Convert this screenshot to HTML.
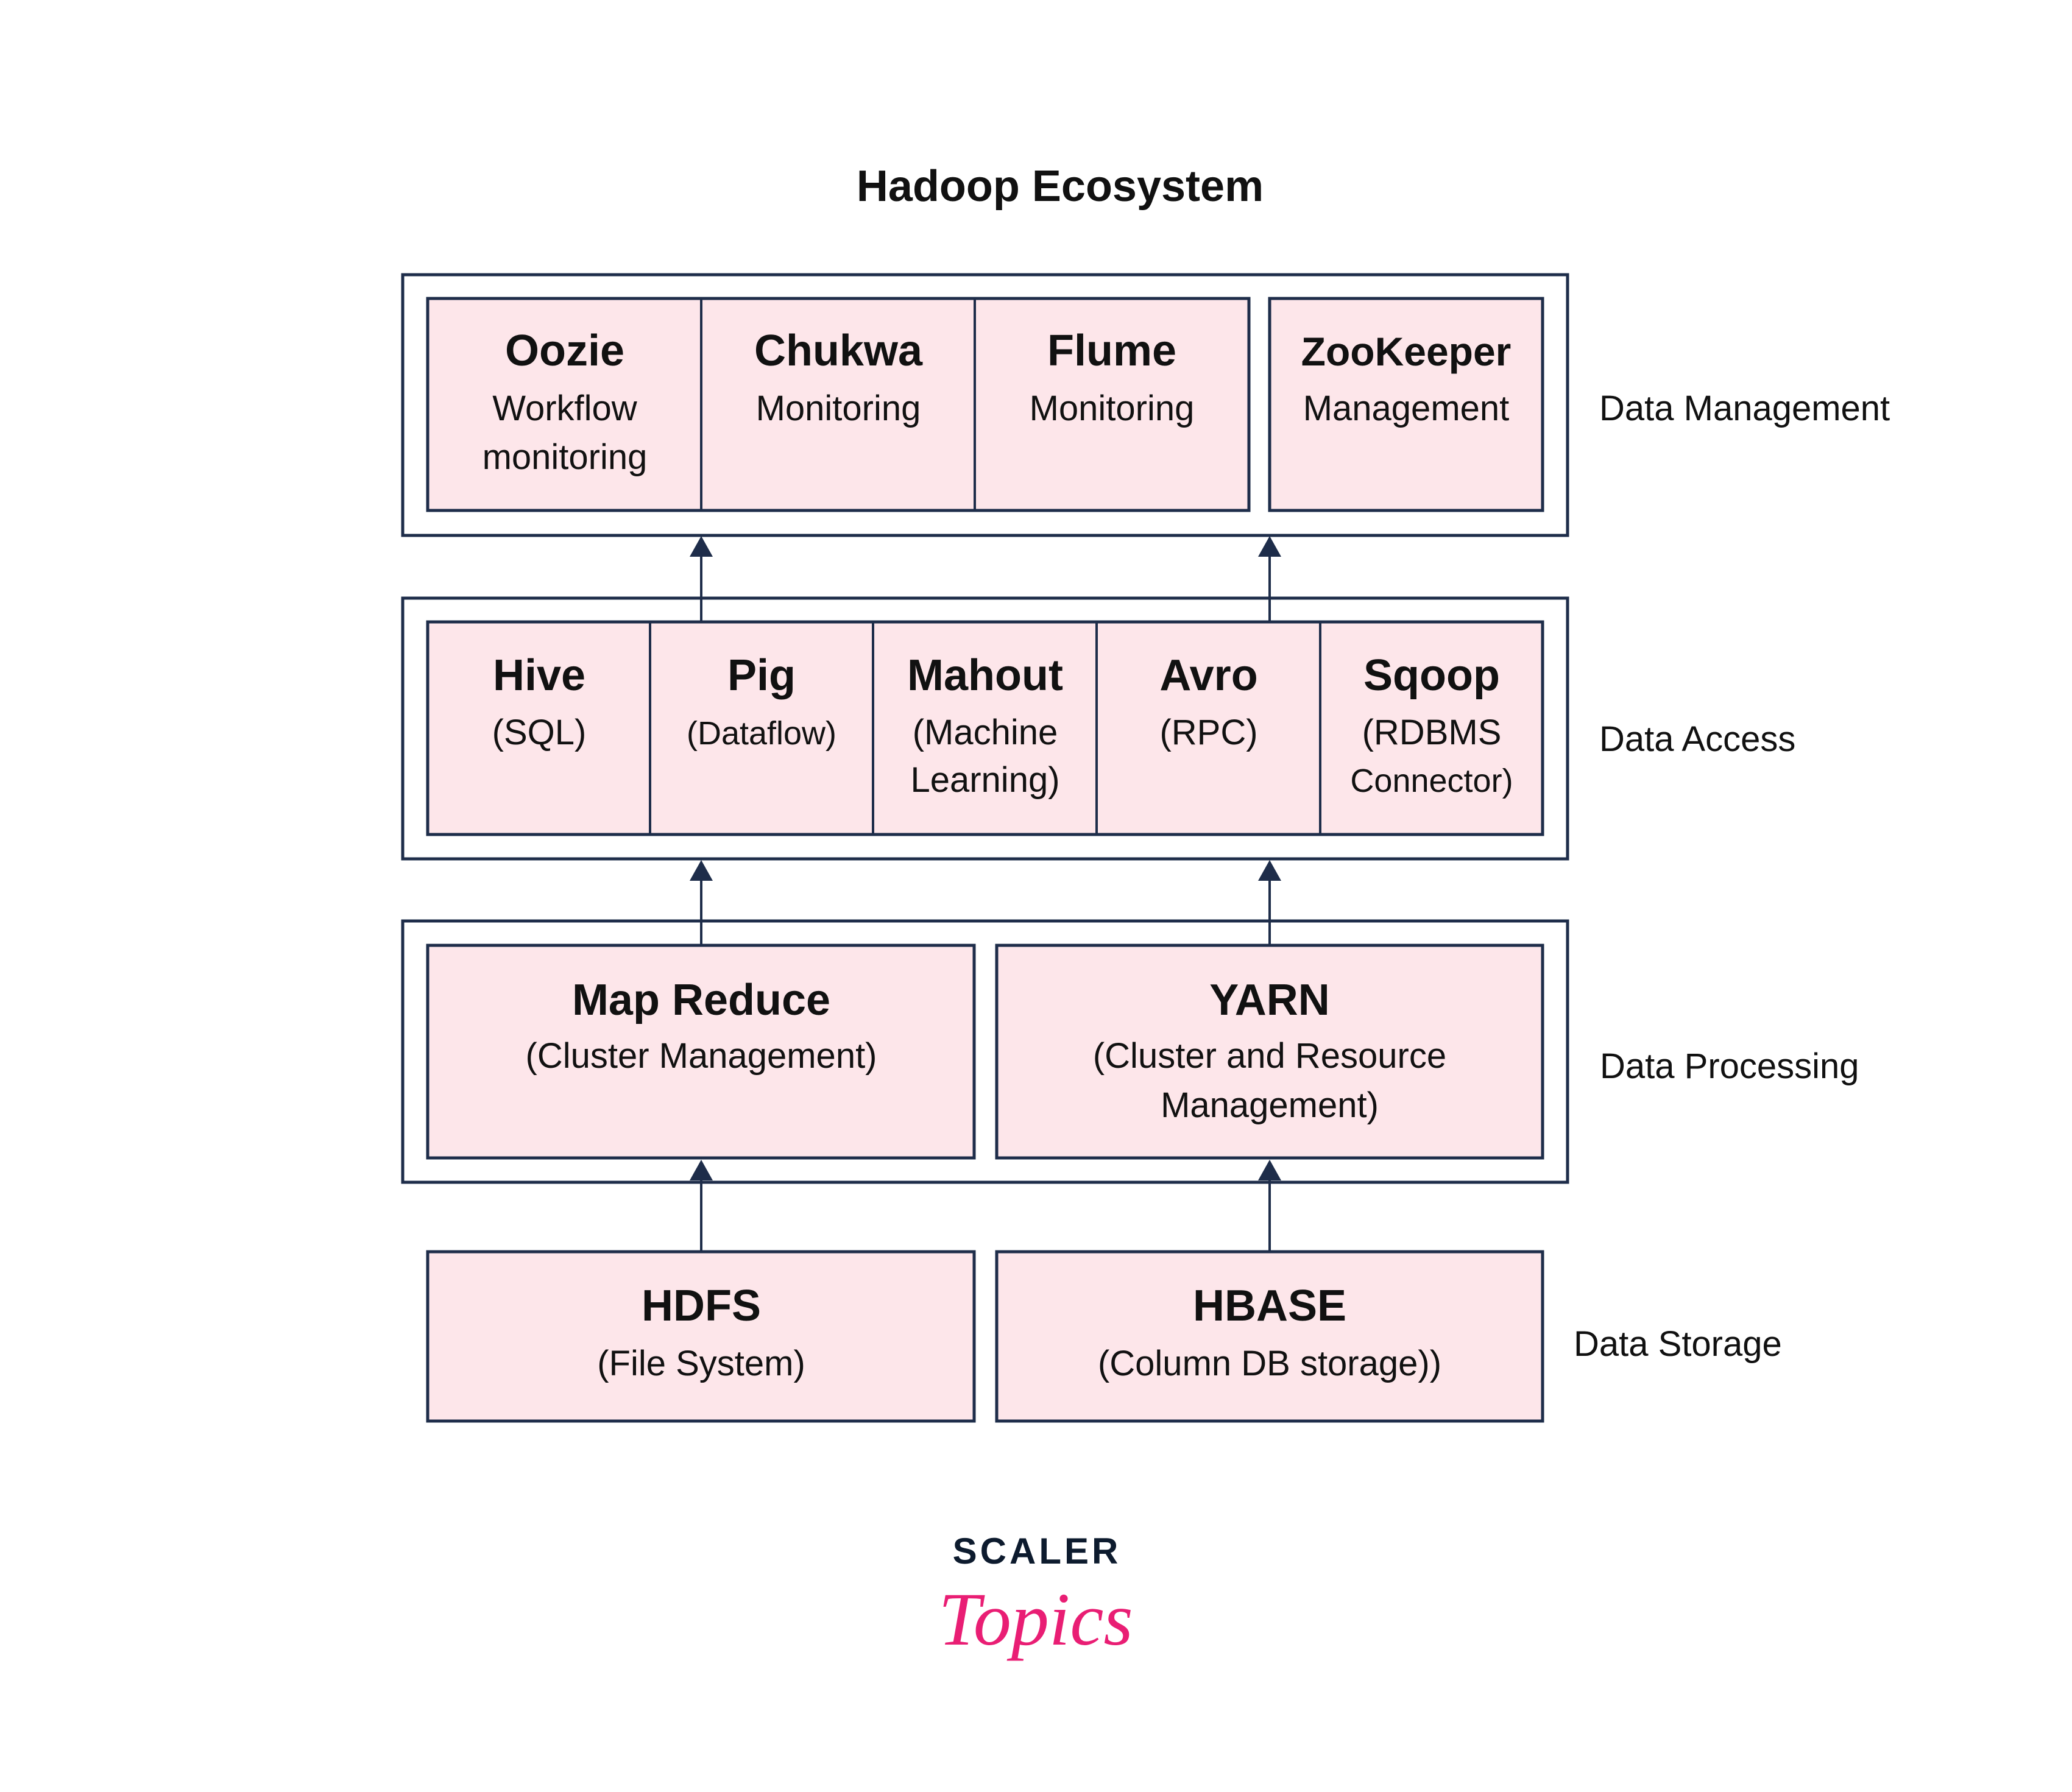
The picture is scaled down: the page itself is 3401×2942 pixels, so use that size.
<!DOCTYPE html>
<html><head><meta charset="utf-8"><style>
html,body{margin:0;padding:0;background:#fff;}
svg{display:block;}
text{font-family:"Liberation Sans",sans-serif;fill:#111;}
.t{font-weight:bold;font-size:72px;text-anchor:middle;}
.s{font-size:58px;text-anchor:middle;}
.l{font-size:58px;}
</style></head><body>
<svg width="3401" height="2942" viewBox="0 0 3401 2942" xmlns="http://www.w3.org/2000/svg">
<g stroke="#1e2d4a" stroke-width="5" fill="none">
<rect x="661" y="451" width="1912" height="428"/>
<rect x="661" y="982" width="1912" height="428"/>
<rect x="661" y="1512" width="1912" height="429"/>
</g>
<g stroke="#1e2d4a" stroke-width="5" fill="#fde6ea">
<rect x="702" y="490" width="1348" height="348"/>
<rect x="2084" y="490" width="448" height="348"/>
<rect x="702" y="1021" width="1830" height="349"/>
<rect x="702" y="1552" width="897" height="349"/>
<rect x="1636" y="1552" width="896" height="349"/>
<rect x="702" y="2055" width="897" height="278"/>
<rect x="1636" y="2055" width="896" height="278"/>
</g>
<g stroke="#1e2d4a" stroke-width="4">
<line x1="1151" y1="490" x2="1151" y2="838"/>
<line x1="1600" y1="490" x2="1600" y2="838"/>
<line x1="1067" y1="1021" x2="1067" y2="1370"/>
<line x1="1433" y1="1021" x2="1433" y2="1370"/>
<line x1="1800" y1="1021" x2="1800" y2="1370"/>
<line x1="2167" y1="1021" x2="2167" y2="1370"/>
<line x1="1151" y1="905" x2="1151" y2="1021"/>
<line x1="2084" y1="905" x2="2084" y2="1021"/>
<line x1="1151" y1="1440" x2="1151" y2="1552"/>
<line x1="2084" y1="1440" x2="2084" y2="1552"/>
<line x1="1151" y1="1935" x2="1151" y2="2055"/>
<line x1="2084" y1="1935" x2="2084" y2="2055"/>
</g>
<g fill="#1e2d4a">
<polygon points="1151,880 1132,914 1170,914"/>
<polygon points="2084,880 2065,914 2103,914"/>
<polygon points="1151,1412 1132,1446 1170,1446"/>
<polygon points="2084,1412 2065,1446 2103,1446"/>
<polygon points="1151,1904 1132,1938 1170,1938"/>
<polygon points="2084,1904 2065,1938 2103,1938"/>
</g>
<text x="1740" y="330" class="t" style="font-size:72px">Hadoop Ecosystem</text>
<text x="927" y="600" class="t">Oozie</text>
<text x="927" y="690" class="s">Workflow</text>
<text x="927" y="770" class="s">monitoring</text>
<text x="1376" y="600" class="t">Chukwa</text>
<text x="1376" y="690" class="s">Monitoring</text>
<text x="1825" y="600" class="t">Flume</text>
<text x="1825" y="690" class="s">Monitoring</text>
<text x="2308" y="600" class="t" style="font-size:66px">ZooKeeper</text>
<text x="2308" y="690" class="s">Management</text>
<text x="2625" y="690" class="l">Data Management</text>

<text x="885" y="1133" class="t">Hive</text>
<text x="885" y="1222" class="s">(SQL)</text>
<text x="1250" y="1133" class="t">Pig</text>
<text x="1250" y="1222" class="s" style="font-size:54px">(Dataflow)</text>
<text x="1617" y="1133" class="t">Mahout</text>
<text x="1617" y="1222" class="s">(Machine</text>
<text x="1617" y="1300" class="s">Learning)</text>
<text x="1984" y="1133" class="t">Avro</text>
<text x="1984" y="1222" class="s">(RPC)</text>
<text x="2350" y="1133" class="t">Sqoop</text>
<text x="2350" y="1222" class="s">(RDBMS</text>
<text x="2350" y="1300" class="s" style="font-size:54px">Connector)</text>
<text x="2625" y="1233" class="l">Data Access</text>

<text x="1151" y="1666" class="t">Map Reduce</text>
<text x="1151" y="1753" class="s">(Cluster Management)</text>
<text x="2084" y="1666" class="t">YARN</text>
<text x="2084" y="1753" class="s">(Cluster and Resource</text>
<text x="2084" y="1834" class="s">Management)</text>
<text x="2626" y="1770" class="l">Data Processing</text>

<text x="1151" y="2168" class="t">HDFS</text>
<text x="1151" y="2258" class="s">(File System)</text>
<text x="2084" y="2168" class="t">HBASE</text>
<text x="2084" y="2258" class="s">(Column DB storage))</text>
<text x="2583" y="2226" class="l">Data Storage</text>

<text x="1702" y="2567" style="font-weight:bold;font-size:60px;text-anchor:middle;fill:#0d1b2e;letter-spacing:5px">SCALER</text>
<text x="1700" y="2700" style="font-family:'Liberation Serif',serif;font-style:italic;font-size:124px;text-anchor:middle;fill:#e91e74">Topics</text>
</svg>
</body></html>
